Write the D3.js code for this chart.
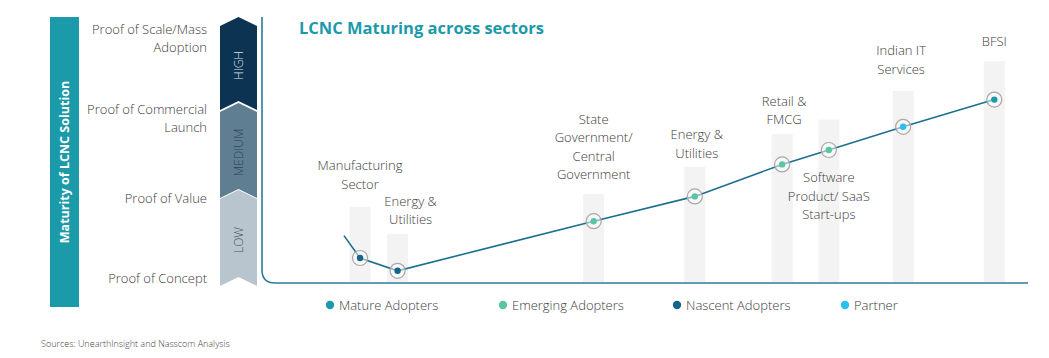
<!DOCTYPE html>
<html lang="en">
<head>
<meta charset="utf-8">
<title>LCNC Maturing across sectors</title>
<script src="https://d3js.org/d3.v7.min.js"></script>
<style>
  body { margin: 0; background: #fff; }
  svg { display: block; font-family: "Open Sans", sans-serif; }
  .lbl { font-size: 13px; fill: #3d3d3d; font-weight: 300; }
  .stage { font-size: 13px; fill: #3d3d3d; text-anchor: end; font-weight: 300; }
  .legend text { font-size: 13px; fill: #3d3d3d; font-weight: 300; }
</style>
</head>
<body>
<script>
// sectors along the x axis (position on a 0-100 scale), maturity on y (0 = concept .. 3 = scale)
var sectors = ["Manufacturing Sector", "Energy & Utilities", "State Government/ Central Government",
  "Energy & Utilities", "Retail & FMCG", "Software Product/ SaaS Start-ups", "Indian IT Services", "BFSI"];
var labelLines = [["Manufacturing", "Sector"], ["Energy &", "Utilities"], ["State", "Government/", "Central", "Government"],
  ["Energy &", "Utilities"], ["Retail &", "FMCG"], ["Software", "Product/ SaaS", "Start-ups"], ["Indian IT", "Services"], ["BFSI"]];
var position = [12.8, 17.7, 43.3, 56.5, 67.9, 74.0, 83.7, 95.6];
var maturity = [0.25, 0.09, 0.71, 1.02, 1.42, 1.60, 1.89, 2.23];
var barHeight = [0.89, 0.55, 1.05, 1.39, 1.80, 1.98, 2.34, 2.71];
var adopterType = ["Nascent", "Nascent", "Emerging", "Emerging", "Emerging", "Emerging", "Partner", "Mature"];
var lineStart = { position: 10.7, maturity: 0.53 };

var stages = [["Proof of Concept"], ["Proof of Value"], ["Proof of Commercial", "Launch"], ["Proof of Scale/Mass", "Adoption"]];
var levels = ["LOW", "MEDIUM", "HIGH"];
var legendNames = ["Mature Adopters", "Emerging Adopters", "Nascent Adopters", "Partner"];
var legendKeys = ["Mature", "Emerging", "Nascent", "Partner"];

var W = 1049, H = 358;
var svg = d3.select("body").append("svg").attr("width", W).attr("height", H);

var x = d3.scaleLinear().domain([0, 100]).range([262, 1028]);
var y = d3.scaleLinear().domain([0, 3]).range([278, 38]);
var color = d3.scaleOrdinal().domain(legendKeys).range(["#1b9aaa", "#5cc4a2", "#17648a", "#2bbff0"]);
var levelFill = d3.scaleOrdinal().domain(levels).range(["#b8c5cf", "#5f7e92", "#0c3352"]);
var levelText = d3.scaleOrdinal().domain(levels).range(["#4a5560", "#2f4352", "#d8e2ea"]);

// left title bar
svg.append("rect").attr("x", 50).attr("y", 17).attr("width", 29).attr("height", 290).attr("fill", "#1b9aaa");
svg.append("text")
  .attr("transform", "translate(69,162) rotate(-90)")
  .attr("text-anchor", "middle")
  .attr("font-size", 12.5).attr("font-weight", 700).attr("fill", "#fff")
  .text("Maturity of LCNC Solution");

// stage labels
stages.forEach(function(s, i) {
  var cy = y(i);
  var n = s.length;
  s.forEach(function(t, j) {
    svg.append("text").attr("class", "stage")
      .attr("x", 207).attr("y", cy + (j - (n - 1) / 2) * 18 + 4.5)
      .text(t);
  });
});

// chevrons
var chev = [{ top: 190, bot: 286 }, { top: 103, bot: 198 }, { top: 17, bot: 110 }];
var cx0 = 220, cx1 = 257, cm = (cx0 + cx1) / 2, d = 9;
levels.forEach(function(l, i) {
  var c = chev[i];
  var p = [[cm, c.top], [cx1, c.top + d], [cx1, c.bot], [cm, c.bot - d], [cx0, c.bot], [cx0, c.top + d]];
  svg.append("path").attr("d", d3.line()(p) + "Z").attr("fill", levelFill(l));
  svg.append("text")
    .attr("transform", "translate(" + (cm + 4.5) + "," + ((c.top + c.bot) / 2 + 2) + ") rotate(-90)")
    .attr("text-anchor", "middle").attr("font-size", 12).attr("font-weight", 300).attr("fill", levelText(l))
    .text(l);
});

// frame
var fx = 262, fy0 = 17, fy1 = 283, r = 13;
svg.append("path")
  .attr("d", "M" + fx + "," + fy0 + "V" + (fy1 - r) + "Q" + fx + "," + fy1 + " " + (fx + r) + "," + fy1 + "H1028")
  .attr("fill", "none").attr("stroke", "#2a7d99").attr("stroke-width", 1.6);

svg.append("text").attr("x", 299).attr("y", 34)
  .attr("font-size", 16.5).attr("font-weight", 700).attr("fill", "#1b9aaa")
  .text("LCNC Maturing across sectors");

// bars
svg.selectAll("rect.bar").data(sectors).enter().append("rect").attr("class", "bar")
  .attr("x", function(dd, i) { return x(position[i]) - 10.5; })
  .attr("width", 21)
  .attr("y", function(dd, i) { return y(barHeight[i]); })
  .attr("height", function(dd, i) { return fy1 - 1 - y(barHeight[i]); })
  .attr("fill", "#f3f3f3");

// line
var pts = [[lineStart.position, lineStart.maturity]].concat(position.map(function(p, i) { return [p, maturity[i]]; }));
svg.append("path")
  .attr("d", d3.line().x(function(p) { return x(p[0]); }).y(function(p) { return y(p[1]); })(pts))
  .attr("fill", "none").attr("stroke", "#1e6f8e").attr("stroke-width", 1.6);

// points
sectors.forEach(function(s, i) {
  var px = x(position[i]), py = y(maturity[i]);
  svg.append("circle").attr("cx", px).attr("cy", py).attr("r", 7.5)
    .attr("fill", "#fff").attr("fill-opacity", 0.5).attr("stroke", "#a8a8a8").attr("stroke-width", 1.2);
  svg.append("circle").attr("cx", px).attr("cy", py).attr("r", 3.2).attr("fill", color(adopterType[i]));
});

// sector labels (small layout nudges so they sit where the original puts them)
var labelNudge = [[0, 0], [13, 8], [0, 3], [2, 9], [2, 8], [0, 0], [-2, 1], [0, 3]];
labelLines.forEach(function(lines, i) {
  var cxl = x(position[i]) + labelNudge[i][0];
  var n = lines.length;
  var below = sectors[i].indexOf("Software") === 0;
  lines.forEach(function(t, j) {
    var yy;
    if (below) yy = y(maturity[i]) + 32 + j * 18.5;
    else yy = y(barHeight[i]) - 18 + labelNudge[i][1] - (n - 1 - j) * 18.5;
    svg.append("text").attr("class", "lbl").attr("text-anchor", "middle")
      .attr("x", cxl).attr("y", yy).text(t);
  });
});

// legend
var lgX = [330, 503, 677, 845];
var lg = svg.append("g").attr("class", "legend");
legendKeys.forEach(function(k, i) {
  lg.append("circle").attr("cx", lgX[i]).attr("cy", 305).attr("r", 4.2).attr("fill", color(k));
  lg.append("text").attr("x", lgX[i] + 9).attr("y", 309.5).text(legendNames[i]);
});

svg.append("text").attr("x", 41).attr("y", 347)
  .attr("font-size", 9).attr("font-weight", 300).attr("fill", "#444")
  .text("Sources: UnearthInsight and Nasscom Analysis");
</script>
</body>
</html>
